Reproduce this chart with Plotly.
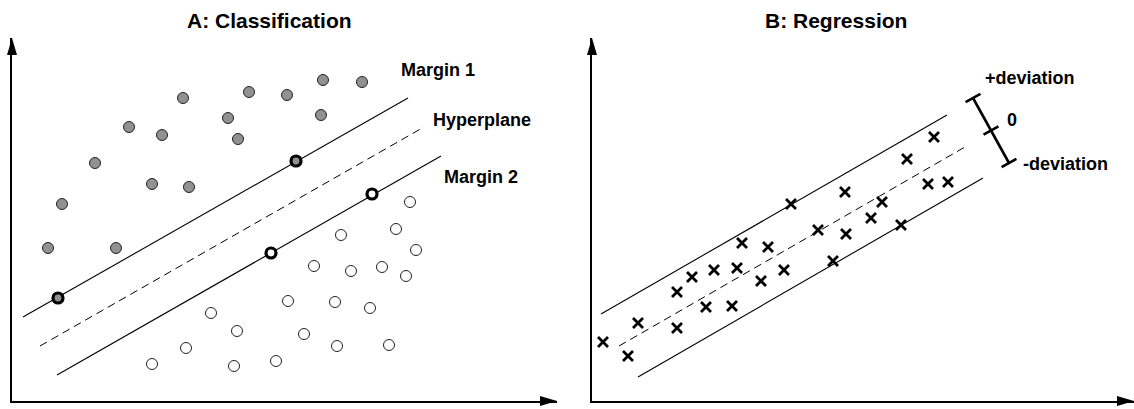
import numpy as np
import plotly.graph_objects as go

# ---------------- Panel A: Classification (data units) ----------------
class1_x = [17.1, 23.7, 27.5, 31.1, 35.0, 30.9, 11.7, 15.0, 21.6, 22.6, 8.3, 14.0, 17.7, 5.0, 3.6, 10.4]
class1_y = [30.3, 30.9, 30.6, 32.1, 31.9, 28.6, 27.4, 26.6, 28.3, 26.2, 23.8, 21.7, 21.4, 19.7, 15.3, 15.3]

class2_x = [39.8, 38.4, 32.9, 40.4, 30.2, 33.9, 37.0, 39.4, 27.6, 32.3, 35.8, 29.2, 32.5, 37.7, 19.9, 22.5, 17.4, 14.0, 22.2, 26.4]
class2_y = [19.9, 17.2, 16.6, 15.1, 13.5, 13.0, 13.4, 12.5, 10.0, 9.9, 9.3, 6.7, 5.5, 5.6, 8.8, 7.0, 5.3, 3.7, 3.5, 4.0]

sv1_x = [4.6, 28.4]
sv1_y = [10.3, 24.0]
sv2_x = [25.9, 36.0]
sv2_y = [14.8, 20.7]

margin1_x = [1.1, 39.6]
margin1_y = [8.4, 30.3]
hyper_x = [2.8, 41.2]
hyper_y = [5.5, 27.4]
margin2_x = [4.5, 42.9]
margin2_y = [2.6, 24.5]

labelsA = ["Margin 1", "Hyperplane", "Margin 2"]
labelsA_x = [38.7, 41.9, 43.0]
labelsA_y = [33.1, 28.1, 22.4]

# ---------------- Panel B: Regression (data units) ----------------
reg_x = [1.1, 3.6, 4.6, 8.5, 8.5, 10.0, 12.2, 14.5, 15.0, 17.6, 11.4, 14.0, 16.9, 19.2,
         22.6, 25.4, 24.1, 19.9, 25.3, 27.9, 29.0, 30.9, 31.5, 34.2, 33.6, 35.6]
reg_y = [5.9, 4.5, 7.8, 7.3, 10.9, 12.4, 13.1, 13.3, 15.8, 15.4, 9.4, 9.5, 12.0, 13.1,
         17.1, 16.7, 14.0, 19.7, 20.9, 18.3, 19.9, 17.6, 24.2, 26.4, 21.7, 21.9]

upper_x = [0.9, 35.5]
upper_y = [8.7, 28.6]
center_x = [2.7, 37.3]
center_y = [5.5, 25.4]
lower_x = [4.6, 39.1]
lower_y = [2.4, 22.3]

dev_top = (38.1, 30.3)
dev_bottom = (41.7, 23.8)
cap_half = 0.85

labelsB = ["+deviation", "0", "-deviation"]
labelsB_x = [39.1, 42.0, 42.9]
labelsB_y = [32.3, 28.1, 23.7]
labelsB_anchor = ["left", "center", "left"]

titles = ["A: Classification", "B: Regression"]

# ---------------- Layout geometry ----------------
W, H = 1134, 409
A_x0, A_x1 = 12, 557
B_x0, B_x1 = 592, 1134
y_bot, y_top = 401, 38
A_xrange = [0, (A_x1 - A_x0) / 10]
B_xrange = [0, (B_x1 - B_x0) / 10]
yrange = [0, (y_bot - y_top) / 10]

FONT = "Liberation Sans, Arial, sans-serif"
GRAY = "#919191"

fig = go.Figure()

line_style = dict(color="black", width=1.1)
dash_style = dict(color="black", width=1.0, dash="8px,5px")

# Panel A traces
for xs, ys, st in [(margin1_x, margin1_y, line_style), (hyper_x, hyper_y, dash_style), (margin2_x, margin2_y, line_style)]:
    fig.add_trace(go.Scatter(x=xs, y=ys, mode="lines", line=st, xaxis="x", yaxis="y", showlegend=False, hoverinfo="skip"))

fig.add_trace(go.Scatter(x=class1_x, y=class1_y, mode="markers", xaxis="x", yaxis="y",
                         marker=dict(size=11, color=GRAY, line=dict(color="#222222", width=1)), showlegend=False))
fig.add_trace(go.Scatter(x=class2_x, y=class2_y, mode="markers", xaxis="x", yaxis="y",
                         marker=dict(size=11, color="white", line=dict(color="#222222", width=1)), showlegend=False))
fig.add_trace(go.Scatter(x=sv1_x, y=sv1_y, mode="markers", xaxis="x", yaxis="y",
                         marker=dict(size=10, color=GRAY, line=dict(color="black", width=3.2)), showlegend=False))
fig.add_trace(go.Scatter(x=sv2_x, y=sv2_y, mode="markers", xaxis="x", yaxis="y",
                         marker=dict(size=10, color="white", line=dict(color="black", width=3.2)), showlegend=False))

# Panel B traces
for xs, ys, st in [(upper_x, upper_y, line_style), (center_x, center_y, dash_style), (lower_x, lower_y, line_style)]:
    fig.add_trace(go.Scatter(x=xs, y=ys, mode="lines", line=st, xaxis="x2", yaxis="y2", showlegend=False, hoverinfo="skip"))

fig.add_trace(go.Scatter(x=reg_x, y=reg_y, mode="markers", xaxis="x2", yaxis="y2",
                         marker=dict(symbol="x-thin", size=10, line=dict(color="black", width=2.8)), showlegend=False))

# deviation bar with caps
tx, ty = dev_top
bx, by = dev_bottom
mx, my = (tx + bx) / 2, (ty + by) / 2
d = np.array([bx - tx, by - ty])
d = d / np.linalg.norm(d)
p = np.array([-d[1], d[0]]) * cap_half
bar_x = [tx, bx, None]
bar_y = [ty, by, None]
for cx, cy in [(tx, ty), (mx, my), (bx, by)]:
    bar_x += [cx - p[0], cx + p[0], None]
    bar_y += [cy - p[1], cy + p[1], None]
fig.add_trace(go.Scatter(x=bar_x, y=bar_y, mode="lines", line=dict(color="black", width=2.6),
                         xaxis="x2", yaxis="y2", showlegend=False, hoverinfo="skip"))

# Annotations
annotations = []
for t, x, y in zip(labelsA, labelsA_x, labelsA_y):
    annotations.append(dict(text=t, x=x, y=y, xref="x", yref="y", xanchor="left", yanchor="middle",
                            showarrow=False, font=dict(family=FONT, size=18, color="black", weight="bold")))
for t, x, y, a in zip(labelsB, labelsB_x, labelsB_y, labelsB_anchor):
    annotations.append(dict(text=t, x=x, y=y, xref="x2", yref="y2", xanchor=a, yanchor="middle",
                            showarrow=False, font=dict(family=FONT, size=18, color="black", weight="bold")))
for t, cx in zip(titles, [269 / W, 835.5 / W]):
    annotations.append(dict(text=t, x=cx, y=1 - 21 / H, xref="paper", yref="paper", xanchor="center", yanchor="middle",
                            showarrow=False, font=dict(family=FONT, size=21, color="black", weight="bold")))

# Arrowheads for axes (paper-anchored so they are not clipped by the plot area)
shapes = []
for x0px, x1px in [(A_x0, A_x1), (B_x0, B_x1)]:
    shapes.append(dict(type="path", xref="paper", yref="paper", xsizemode="pixel", ysizemode="pixel",
                       xanchor=x1px / W, yanchor=1 - y_bot / H, path="M0,0 L-17,5 L-17,-5 Z",
                       fillcolor="black", line=dict(width=0), layer="above"))
    shapes.append(dict(type="path", xref="paper", yref="paper", xsizemode="pixel", ysizemode="pixel",
                       xanchor=x0px / W, yanchor=1 - y_top / H, path="M0,0 L-5,-17 L5,-17 Z",
                       fillcolor="black", line=dict(width=0), layer="above"))

axis_common = dict(showgrid=False, zeroline=False, showticklabels=False, ticks="",
                   showline=True, linecolor="black", linewidth=2, fixedrange=True)
fig.update_layout(
    width=W, height=H,
    margin=dict(l=0, r=0, t=0, b=0),
    paper_bgcolor="white", plot_bgcolor="white",
    xaxis=dict(domain=[A_x0 / W, A_x1 / W], range=A_xrange, anchor="y", **axis_common),
    yaxis=dict(domain=[1 - y_bot / H, 1 - y_top / H], range=yrange, anchor="x", **axis_common),
    xaxis2=dict(domain=[B_x0 / W, B_x1 / W], range=B_xrange, anchor="y2", **axis_common),
    yaxis2=dict(domain=[1 - y_bot / H, 1 - y_top / H], range=yrange, anchor="x2", **axis_common),
    annotations=annotations,
    shapes=shapes,
    showlegend=False,
)

fig.write_html("out.html", config={"displayModeBar": False},
               post_script="document.body.style.margin='0px';document.body.style.overflow='hidden';")
